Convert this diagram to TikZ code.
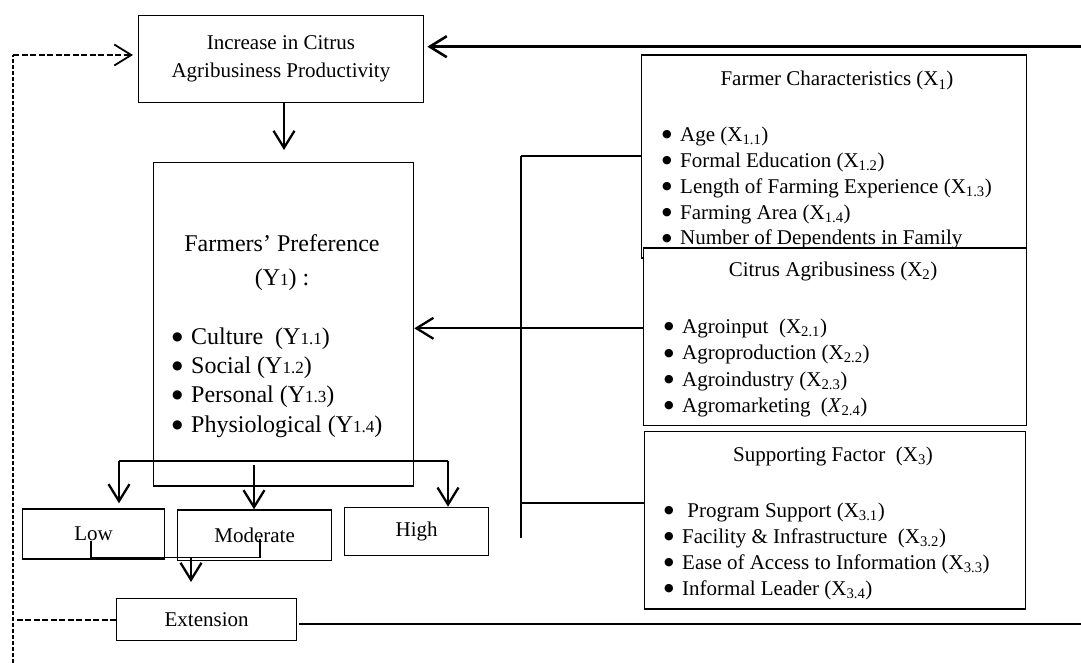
\documentclass[tikz,border=0pt]{standalone}
\usepackage{fontspec}
\setmainfont{Liberation Serif}
\newfontfamily\symfont{DejaVu Sans}
\usetikzlibrary{arrows.meta}
\newcommand{\bul}{\makebox[18pt][l]{\raisebox{3.8pt}{\fontsize{11pt}{11pt}\symfont ●}}}
\newcommand{\bulbig}{\makebox[19pt][l]{\raisebox{4pt}{\fontsize{12pt}{12pt}\symfont ●}}}
\newcommand{\ysub}[1]{{\fontsize{17pt}{17pt}\selectfont #1}}
\begin{document}
\begin{tikzpicture}[x=1pt,y=-1pt,
  font=\fontsize{21pt}{27.7pt}\selectfont,
  box/.style={draw, line width=1.3pt, fill=white, inner sep=0pt, anchor=north west, align=center},
  txt/.style={inner sep=0pt, anchor=base west},
  ttl/.style={inner sep=0pt, anchor=base},
  big/.style={font=\fontsize{24pt}{29pt}\selectfont},
  link/.style={line width=2pt},
  barb/.style={-{Straight Barb[length=17pt,width=21pt]}},
  arr/.style={line width=2.3pt, barb},
  dashlink/.style={line width=1.8pt, dash pattern=on 6pt off 2.5pt}]
\useasboundingbox (0,0) rectangle (1081,663);%

% Drawing box increase
\node [box, minimum width=284.5pt, minimum height=87pt] (incr) at (138,14.7) {Increase in Citrus\\Agribusiness Productivity};%

% Drawing box preference
\node [box, minimum width=260pt, minimum height=323.3pt] (pref) at (153,162) {};%
\node [ttl, big] (preft) at (282,251.7) {Farmers’ Preference};%
\node [ttl, big] (prefy) at (282,285) {(Y\ysub{1}) :};%
\node [txt, big] (cult) at (172,344) {\bulbig Culture\ \ (Y\ysub{1.1})};%
\node [txt, big] (socl) at (172,373.3) {\bulbig Social (Y\ysub{1.2})};%
\node [txt, big] (pers) at (172,402.7) {\bulbig Personal (Y\ysub{1.3})};%
\node [txt, big] (phys) at (172,432) {\bulbig Physiological (Y\ysub{1.4})};%

% Drawing box farmer characteristics
\node [box, minimum width=385pt, minimum height=203pt] (farmer) at (641,54.3) {};%
\node [ttl] (farmert) at (837,86) {Farmer Characteristics (X\textsubscript{1})};%
\node [txt] (age) at (662,141.7) {\bul Age (X\textsubscript{1.1})};%
\node [txt] (educ) at (662,167.5) {\bul Formal Education (X\textsubscript{1.2})};%
\node [txt] (expr) at (662,193.3) {\bul Length of Farming Experience (X\textsubscript{1.3})};%
\node [txt] (area) at (662,219.1) {\bul Farming Area (X\textsubscript{1.4})};%
\node [txt] (depn) at (662,244.9) {\bul Number of Dependents in Family};%

% Drawing box citrus agribusiness
\node [box, minimum width=383pt, minimum height=177.7pt] (citrus) at (643,247.3) {};%
\node [ttl] (citrust) at (833,276.7) {Citrus Agribusiness (X\textsubscript{2})};%
\node [txt] (inpt) at (664,333.3) {\bul Agroinput\ \ (X\textsubscript{2.1})};%
\node [txt] (prod) at (664,359.8) {\bul Agroproduction (X\textsubscript{2.2})};%
\node [txt] (indu) at (664,386.3) {\bul Agroindustry (X\textsubscript{2.3})};%
\node [txt] (mrkt) at (664,412.7) {\bul Agromarketing\ \ (\textit{X}\textsubscript{2.4})};%

% Drawing box supporting factor
\node [box, minimum width=381pt, minimum height=177.6pt] (support) at (644,430.7) {};%
\node [ttl] (supportt) at (833,461.7) {Supporting Factor\ \ (X\textsubscript{3})};%
\node [txt] (prgm) at (664,517.3) {\bul\ Program Support (X\textsubscript{3.1})};%
\node [txt] (fcty) at (664,543.3) {\bul Facility \& Infrastructure\ \ (X\textsubscript{3.2})};%
\node [txt] (info) at (664,569.2) {\bul Ease of Access to Information (X\textsubscript{3.3})};%
\node [txt] (ldr) at (664,595) {\bul Informal Leader (X\textsubscript{3.4})};%

% Drawing boxes low moderate high
\node [box, minimum width=142pt, minimum height=50pt] (low) at (22,508.3) {Low};%
\node [box, minimum width=154pt, minimum height=50.7pt] (mod) at (177,509.3) {Moderate};%
\node [box, minimum width=144pt, minimum height=48.3pt] (high) at (344,506.7) {High};%

% Drawing box extension
\node [box, minimum width=180pt, minimum height=42pt] (ext) at (116,598) {Extension};%

% Drawing arrow increase preference
\coordinate (prefin) at (284,150);%
\draw [arr] (prefin |- incr.south) -- (prefin);%

% Drawing bracket farmer citrus support
\coordinate (brtop) at (521,155.7);%
\coordinate (brmid) at (521,328.3);%
\coordinate (brlow) at (521,503.3);%
\coordinate (brend) at (521,538.3);%
\draw [link] (brtop) -- (brend);%
\draw [link] (brtop) -- (brtop -| farmer.west);%
\draw [link] (brmid) -- (brmid -| citrus.west);%
\draw [link] (brlow) -- (brlow -| support.west);%
\draw [arr] (brmid) -- (brmid -| pref.east);%

% Drawing bracket preference low moderate high
\coordinate (prefl) at (119,461);%
\coordinate (prefr) at (448,461);%
\coordinate (prefm) at (254,465);%
\draw [link] (prefl) -- (prefr);%
\draw [arr, shorten >=5pt] (prefl) -- (prefl |- low.north);%
\draw [arr] (prefm) -- (prefm |- mod.north);%
\draw [arr] (prefr) -- (prefr |- high.north);%

% Drawing bracket low moderate extension
\coordinate (lowtap) at (91,540.7);%
\coordinate (modtap) at (260,539.3);%
\coordinate (lmjoin) at (191,557.3);%
\coordinate (extin) at (191,582);%
\draw [line width=1.6pt] (lowtap) |- (modtap |- lmjoin) -- (modtap);%
\draw [arr] (lmjoin) -- (extin);%

% Drawing feedback lines
\coordinate (dtop) at (13,55);%
\coordinate (dbot) at (13,663);%
\coordinate (rtop) at (1081,46.7);%
\coordinate (rlow) at (1081,624);%
\draw [dashlink, dash pattern=on 4pt off 2pt] (dbot) -- (dtop);%
\draw [dashlink, barb, shorten >=5pt] (dtop) -- (dtop -| incr.west);%
\draw [dashlink] (ext.west) -- (ext.west -| dtop);%
\draw [arr, line width=2.6pt, shorten >=3.5pt] (rtop) -- (rtop -| incr.east);%
\draw [line width=2.3pt, shorten <=2pt] (rlow -| ext.east) -- (rlow);%
\end{tikzpicture}
\end{document}
